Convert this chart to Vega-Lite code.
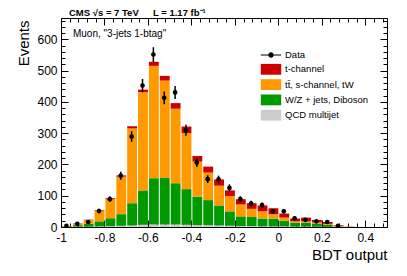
{
"$schema": "https://vega.github.io/schema/vega-lite/v6.json",
"width": 326, "height": 209,
"autosize": "none",
"padding": {"left": 61, "top": 18, "right": 20, "bottom": 49},
"background": "white",
"title": {"text": "CMS √s = 7 TeV\u2003\u2002L = 1.17 fb⁻¹", "anchor": "start", "frame": "group", "dx": 8, "offset": -11, "baseline": "alphabetic", "font": "Liberation Sans", "fontSize": 9.5, "fontWeight": "bold", "color": "black"},
"config": {
  "view": {"stroke": null},
  "axis": {"domainColor": "black", "tickColor": "black", "labelColor": "black", "titleColor": "black", "labelFont": "Liberation Sans", "titleFont": "Liberation Sans", "labelFontSize": 12, "titleFontSize": 15, "titleFontWeight": "normal", "grid": false, "labelFlush": false, "labelOverlap": false, "tickWidth": 1, "domainWidth": 1}
},
"datasets": {
"mc": [
{"x0":-1,"x1":-0.95,"proc":"QCD multijet","k":1,"n":0.5},{"x0":-1,"x1":-0.95,"proc":"W/Z + jets, Diboson","k":2,"n":1},{"x0":-1,"x1":-0.95,"proc":"tt\u0304, s-channel, tW","k":3,"n":1.5},{"x0":-1,"x1":-0.95,"proc":"t-channel","k":4,"n":0.5},
{"x0":-0.95,"x1":-0.9,"proc":"QCD multijet","k":1,"n":1},{"x0":-0.95,"x1":-0.9,"proc":"W/Z + jets, Diboson","k":2,"n":5},{"x0":-0.95,"x1":-0.9,"proc":"tt\u0304, s-channel, tW","k":3,"n":5},{"x0":-0.95,"x1":-0.9,"proc":"t-channel","k":4,"n":1},
{"x0":-0.9,"x1":-0.85,"proc":"QCD multijet","k":1,"n":1},{"x0":-0.9,"x1":-0.85,"proc":"W/Z + jets, Diboson","k":2,"n":9},{"x0":-0.9,"x1":-0.85,"proc":"tt\u0304, s-channel, tW","k":3,"n":13},{"x0":-0.9,"x1":-0.85,"proc":"t-channel","k":4,"n":1},
{"x0":-0.85,"x1":-0.8,"proc":"QCD multijet","k":1,"n":2},{"x0":-0.85,"x1":-0.8,"proc":"W/Z + jets, Diboson","k":2,"n":16},{"x0":-0.85,"x1":-0.8,"proc":"tt\u0304, s-channel, tW","k":3,"n":34},{"x0":-0.85,"x1":-0.8,"proc":"t-channel","k":4,"n":2},
{"x0":-0.8,"x1":-0.75,"proc":"QCD multijet","k":1,"n":3},{"x0":-0.8,"x1":-0.75,"proc":"W/Z + jets, Diboson","k":2,"n":25},{"x0":-0.8,"x1":-0.75,"proc":"tt\u0304, s-channel, tW","k":3,"n":61},{"x0":-0.8,"x1":-0.75,"proc":"t-channel","k":4,"n":3},
{"x0":-0.75,"x1":-0.7,"proc":"QCD multijet","k":1,"n":4},{"x0":-0.75,"x1":-0.7,"proc":"W/Z + jets, Diboson","k":2,"n":37},{"x0":-0.75,"x1":-0.7,"proc":"tt\u0304, s-channel, tW","k":3,"n":120},{"x0":-0.75,"x1":-0.7,"proc":"t-channel","k":4,"n":4},
{"x0":-0.7,"x1":-0.65,"proc":"QCD multijet","k":1,"n":5},{"x0":-0.7,"x1":-0.65,"proc":"W/Z + jets, Diboson","k":2,"n":71},{"x0":-0.7,"x1":-0.65,"proc":"tt\u0304, s-channel, tW","k":3,"n":239},{"x0":-0.7,"x1":-0.65,"proc":"t-channel","k":4,"n":7},
{"x0":-0.65,"x1":-0.6,"proc":"QCD multijet","k":1,"n":7},{"x0":-0.65,"x1":-0.6,"proc":"W/Z + jets, Diboson","k":2,"n":110},{"x0":-0.65,"x1":-0.6,"proc":"tt\u0304, s-channel, tW","k":3,"n":314},{"x0":-0.65,"x1":-0.6,"proc":"t-channel","k":4,"n":8},
{"x0":-0.6,"x1":-0.55,"proc":"QCD multijet","k":1,"n":8},{"x0":-0.6,"x1":-0.55,"proc":"W/Z + jets, Diboson","k":2,"n":148},{"x0":-0.6,"x1":-0.55,"proc":"tt\u0304, s-channel, tW","k":3,"n":359},{"x0":-0.6,"x1":-0.55,"proc":"t-channel","k":4,"n":13},
{"x0":-0.55,"x1":-0.5,"proc":"QCD multijet","k":1,"n":8},{"x0":-0.55,"x1":-0.5,"proc":"W/Z + jets, Diboson","k":2,"n":149},{"x0":-0.55,"x1":-0.5,"proc":"tt\u0304, s-channel, tW","k":3,"n":311},{"x0":-0.55,"x1":-0.5,"proc":"t-channel","k":4,"n":15},
{"x0":-0.5,"x1":-0.45,"proc":"QCD multijet","k":1,"n":8},{"x0":-0.5,"x1":-0.45,"proc":"W/Z + jets, Diboson","k":2,"n":132},{"x0":-0.5,"x1":-0.45,"proc":"tt\u0304, s-channel, tW","k":3,"n":238},{"x0":-0.5,"x1":-0.45,"proc":"t-channel","k":4,"n":18},
{"x0":-0.45,"x1":-0.4,"proc":"QCD multijet","k":1,"n":7},{"x0":-0.45,"x1":-0.4,"proc":"W/Z + jets, Diboson","k":2,"n":114},{"x0":-0.45,"x1":-0.4,"proc":"tt\u0304, s-channel, tW","k":3,"n":179},{"x0":-0.45,"x1":-0.4,"proc":"t-channel","k":4,"n":21},
{"x0":-0.4,"x1":-0.35,"proc":"QCD multijet","k":1,"n":6},{"x0":-0.4,"x1":-0.35,"proc":"W/Z + jets, Diboson","k":2,"n":91},{"x0":-0.4,"x1":-0.35,"proc":"tt\u0304, s-channel, tW","k":3,"n":112},{"x0":-0.4,"x1":-0.35,"proc":"t-channel","k":4,"n":18},
{"x0":-0.35,"x1":-0.3,"proc":"QCD multijet","k":1,"n":6},{"x0":-0.35,"x1":-0.3,"proc":"W/Z + jets, Diboson","k":2,"n":80},{"x0":-0.35,"x1":-0.3,"proc":"tt\u0304, s-channel, tW","k":3,"n":88},{"x0":-0.35,"x1":-0.3,"proc":"t-channel","k":4,"n":19},
{"x0":-0.3,"x1":-0.25,"proc":"QCD multijet","k":1,"n":5},{"x0":-0.3,"x1":-0.25,"proc":"W/Z + jets, Diboson","k":2,"n":64},{"x0":-0.3,"x1":-0.25,"proc":"tt\u0304, s-channel, tW","k":3,"n":63},{"x0":-0.3,"x1":-0.25,"proc":"t-channel","k":4,"n":20},
{"x0":-0.25,"x1":-0.2,"proc":"QCD multijet","k":1,"n":4},{"x0":-0.25,"x1":-0.2,"proc":"W/Z + jets, Diboson","k":2,"n":46},{"x0":-0.25,"x1":-0.2,"proc":"tt\u0304, s-channel, tW","k":3,"n":49},{"x0":-0.25,"x1":-0.2,"proc":"t-channel","k":4,"n":18},
{"x0":-0.2,"x1":-0.15,"proc":"QCD multijet","k":1,"n":3},{"x0":-0.2,"x1":-0.15,"proc":"W/Z + jets, Diboson","k":2,"n":31},{"x0":-0.2,"x1":-0.15,"proc":"tt\u0304, s-channel, tW","k":3,"n":38},{"x0":-0.2,"x1":-0.15,"proc":"t-channel","k":4,"n":17},
{"x0":-0.15,"x1":-0.1,"proc":"QCD multijet","k":1,"n":3},{"x0":-0.15,"x1":-0.1,"proc":"W/Z + jets, Diboson","k":2,"n":29},{"x0":-0.15,"x1":-0.1,"proc":"tt\u0304, s-channel, tW","k":3,"n":26},{"x0":-0.15,"x1":-0.1,"proc":"t-channel","k":4,"n":18},
{"x0":-0.1,"x1":-0.05,"proc":"QCD multijet","k":1,"n":2},{"x0":-0.1,"x1":-0.05,"proc":"W/Z + jets, Diboson","k":2,"n":25},{"x0":-0.1,"x1":-0.05,"proc":"tt\u0304, s-channel, tW","k":3,"n":23},{"x0":-0.1,"x1":-0.05,"proc":"t-channel","k":4,"n":19},
{"x0":-0.05,"x1":0,"proc":"QCD multijet","k":1,"n":2},{"x0":-0.05,"x1":0,"proc":"W/Z + jets, Diboson","k":2,"n":25},{"x0":-0.05,"x1":0,"proc":"tt\u0304, s-channel, tW","k":3,"n":14},{"x0":-0.05,"x1":0,"proc":"t-channel","k":4,"n":19},
{"x0":0,"x1":0.05,"proc":"QCD multijet","k":1,"n":2},{"x0":0,"x1":0.05,"proc":"W/Z + jets, Diboson","k":2,"n":18},{"x0":0,"x1":0.05,"proc":"tt\u0304, s-channel, tW","k":3,"n":10},{"x0":0,"x1":0.05,"proc":"t-channel","k":4,"n":13},
{"x0":0.05,"x1":0.1,"proc":"QCD multijet","k":1,"n":1},{"x0":0.05,"x1":0.1,"proc":"W/Z + jets, Diboson","k":2,"n":13},{"x0":0.05,"x1":0.1,"proc":"tt\u0304, s-channel, tW","k":3,"n":4},{"x0":0.05,"x1":0.1,"proc":"t-channel","k":4,"n":9},
{"x0":0.1,"x1":0.15,"proc":"QCD multijet","k":1,"n":1},{"x0":0.1,"x1":0.15,"proc":"W/Z + jets, Diboson","k":2,"n":13},{"x0":0.1,"x1":0.15,"proc":"tt\u0304, s-channel, tW","k":3,"n":4},{"x0":0.1,"x1":0.15,"proc":"t-channel","k":4,"n":12},
{"x0":0.15,"x1":0.2,"proc":"QCD multijet","k":1,"n":1},{"x0":0.15,"x1":0.2,"proc":"W/Z + jets, Diboson","k":2,"n":9},{"x0":0.15,"x1":0.2,"proc":"tt\u0304, s-channel, tW","k":3,"n":4},{"x0":0.15,"x1":0.2,"proc":"t-channel","k":4,"n":8},
{"x0":0.2,"x1":0.25,"proc":"QCD multijet","k":1,"n":0.5},{"x0":0.2,"x1":0.25,"proc":"W/Z + jets, Diboson","k":2,"n":6.5},{"x0":0.2,"x1":0.25,"proc":"tt\u0304, s-channel, tW","k":3,"n":3},{"x0":0.2,"x1":0.25,"proc":"t-channel","k":4,"n":6},
{"x0":0.25,"x1":0.3,"proc":"QCD multijet","k":1,"n":0.3},{"x0":0.25,"x1":0.3,"proc":"W/Z + jets, Diboson","k":2,"n":1.7},{"x0":0.25,"x1":0.3,"proc":"tt\u0304, s-channel, tW","k":3,"n":2},{"x0":0.25,"x1":0.3,"proc":"t-channel","k":4,"n":2},
{"x0":0.3,"x1":0.35,"proc":"QCD multijet","k":1,"n":0.1},{"x0":0.3,"x1":0.35,"proc":"W/Z + jets, Diboson","k":2,"n":0.4},{"x0":0.3,"x1":0.35,"proc":"tt\u0304, s-channel, tW","k":3,"n":0.5},{"x0":0.3,"x1":0.35,"proc":"t-channel","k":4,"n":0.5}
],
"obs": [
{"xc":-0.975,"n":4,"lo":2,"hi":6},
{"xc":-0.925,"n":10,"lo":6.8,"hi":13.2},
{"xc":-0.875,"n":16,"lo":12,"hi":20},
{"xc":-0.825,"n":51,"lo":43.9,"hi":58.1},
{"xc":-0.775,"n":89,"lo":79.6,"hi":98.4},
{"xc":-0.725,"n":164,"lo":151.2,"hi":176.8},
{"xc":-0.675,"n":289,"lo":272,"hi":306},
{"xc":-0.625,"n":452,"lo":430.7,"hi":473.3},
{"xc":-0.575,"n":551,"lo":527.5,"hi":574.5},
{"xc":-0.525,"n":413,"lo":392.7,"hi":433.3},
{"xc":-0.475,"n":430,"lo":409.3,"hi":450.7},
{"xc":-0.425,"n":309,"lo":291.4,"hi":326.6},
{"xc":-0.375,"n":206,"lo":191.6,"hi":220.4},
{"xc":-0.325,"n":153,"lo":140.6,"hi":165.4},
{"xc":-0.275,"n":152,"lo":139.7,"hi":164.3},
{"xc":-0.225,"n":125,"lo":113.8,"hi":136.2},
{"xc":-0.175,"n":89,"lo":79.6,"hi":98.4},
{"xc":-0.125,"n":75,"lo":66.3,"hi":83.7},
{"xc":-0.075,"n":70,"lo":61.6,"hi":78.4},
{"xc":-0.025,"n":50,"lo":42.9,"hi":57.1},
{"xc":0.025,"n":50,"lo":42.9,"hi":57.1},
{"xc":0.075,"n":28,"lo":22.7,"hi":33.3},
{"xc":0.125,"n":23,"lo":18.2,"hi":27.8},
{"xc":0.175,"n":18,"lo":13.8,"hi":22.2},
{"xc":0.225,"n":16,"lo":12,"hi":20},
{"xc":0.275,"n":4,"lo":2,"hi":6}
]
},
"resolve": {"axis": {"x": "independent", "y": "independent"}},
"layer": [
{
  "data": {"name": "mc"},
  "mark": {"type": "bar", "strokeWidth": 0},
  "encoding": {
    "x": {"field": "x0", "type": "quantitative", "bin": "binned", "scale": {"domain": [-1, 0.5], "nice": false, "zero": false},
      "axis": {"orient": "bottom", "title": "BDT output", "titleAnchor": "end", "titlePadding": 1,
        "values": [-1,-0.96,-0.92,-0.88,-0.84,-0.8,-0.76,-0.72,-0.68,-0.64,-0.6,-0.56,-0.52,-0.48,-0.44,-0.4,-0.36,-0.32,-0.28,-0.24,-0.2,-0.16,-0.12,-0.08,-0.04,0,0.04,0.08,0.12,0.16,0.2,0.24,0.28,0.32,0.36,0.4,0.44,0.48],
        "labelExpr": "indexof([-1,-0.8,-0.6,-0.4,-0.2,0,0.2,0.4], datum.value) >= 0 ? '' + datum.value : ''",
        "tickSize": {"condition": {"test": "indexof([-1,-0.8,-0.6,-0.4,-0.2,0,0.2,0.4], datum.value) >= 0", "value": -7}, "value": -4},
        "labelPadding": 12}},
    "x2": {"field": "x1"},
    "y": {"field": "n", "type": "quantitative", "stack": "zero", "scale": {"domain": [0, 668], "nice": false},
      "axis": {"orient": "left", "title": "Events", "titleAngle": -90, "titleAlign": "right", "titleBaseline": "alphabetic", "titleX": -33, "titleY": 2,
        "values": [0,20,40,60,80,100,120,140,160,180,200,220,240,260,280,300,320,340,360,380,400,420,440,460,480,500,520,540,560,580,600,620,640,660],
        "labelExpr": "datum.value % 100 === 0 ? datum.label : ''",
        "tickSize": {"condition": {"test": "datum.value % 100 === 0", "value": -7}, "value": -4},
        "labelPadding": 11}},
    "color": {"field": "proc", "type": "nominal",
      "scale": {"domain": ["Data", "t-channel", "tt\u0304, s-channel, tW", "W/Z + jets, Diboson", "QCD multijet"], "range": ["#000000", "#cc0000", "#ff9900", "#009900", "#cccccc"]},
      "legend": {"orient": "none", "legendX": 204, "legendY": 31, "title": null, "padding": 0, "symbolSize": 144, "symbolStrokeWidth": 0, "symbolOpacity": 1, "labelFont": "Liberation Sans", "labelFontSize": 9.5, "labelColor": "black", "labelOffset": 8, "rowPadding": 3.3,
        "encode": {"symbols": {"update": {"shape": {"signal": "datum.value === 'Data' ? 'M-1.7,-0.08H1.7V0.08H-1.7Z M0,-0.45A0.45,0.45 0 1,1 0,0.45A0.45,0.45 0 1,1 0,-0.45Z' : 'M-1.7,-0.9H1.7V0.9H-1.7Z'"}}}}}},
    "order": {"field": "k", "type": "quantitative"}
  }
},
{
  "data": {"name": "obs"},
  "mark": {"type": "rule", "color": "black", "strokeWidth": 1.5},
  "encoding": {
    "x": {"field": "xc", "type": "quantitative",
      "axis": {"orient": "top", "title": null, "labels": false,
        "values": [-1,-0.96,-0.92,-0.88,-0.84,-0.8,-0.76,-0.72,-0.68,-0.64,-0.6,-0.56,-0.52,-0.48,-0.44,-0.4,-0.36,-0.32,-0.28,-0.24,-0.2,-0.16,-0.12,-0.08,-0.04,0,0.04,0.08,0.12,0.16,0.2,0.24,0.28,0.32,0.36,0.4,0.44,0.48],
        "tickSize": {"condition": {"test": "indexof([-1,-0.8,-0.6,-0.4,-0.2,0,0.2,0.4], datum.value) >= 0", "value": -7}, "value": -4}}},
    "y": {"field": "lo", "type": "quantitative",
      "axis": {"orient": "right", "title": null, "labels": false,
        "values": [0,20,40,60,80,100,120,140,160,180,200,220,240,260,280,300,320,340,360,380,400,420,440,460,480,500,520,540,560,580,600,620,640,660],
        "tickSize": {"condition": {"test": "datum.value % 100 === 0", "value": -7}, "value": -4}}},
    "y2": {"field": "hi"}
  }
},
{
  "data": {"name": "obs"},
  "mark": {"type": "point", "filled": true, "opacity": 1, "size": 22},
  "encoding": {
    "x": {"field": "xc", "type": "quantitative", "axis": null},
    "y": {"field": "n", "type": "quantitative", "axis": null},
    "color": {"datum": "Data", "type": "nominal"}
  }
},
{
  "data": {"values": [{}]},
  "mark": {"type": "text", "align": "left", "baseline": "alphabetic", "font": "Liberation Sans", "fontSize": 10, "color": "black"},
  "encoding": {
    "x": {"datum": -0.945, "type": "quantitative", "axis": null},
    "y": {"datum": 607, "type": "quantitative", "axis": null},
    "text": {"value": "Muon, \"3-jets 1-btag\""}
  }
}
]
}
